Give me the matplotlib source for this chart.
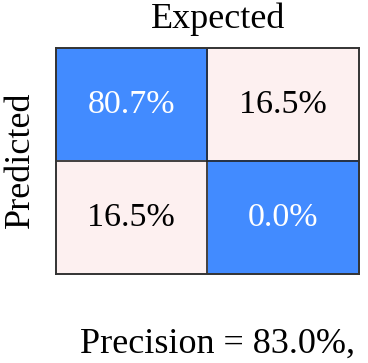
import matplotlib
matplotlib.use('Agg')
import matplotlib.pyplot as plt
import numpy as np
from matplotlib.colors import ListedColormap

# confusion matrix values (percent), rows = predicted, cols = expected
values = [[80.7, 16.5],
          [16.5, 0.0]]
correct = [[1, 0],
           [0, 1]]
precision = 83.0

BLUE = '#428bff'
PINK = '#fdf0f0'

plt.rcParams['font.family'] = ['Liberation Serif', 'DejaVu Serif']

W, H = 368, 363
fig = plt.figure(figsize=(W / 100, H / 100), dpi=100)
ax = fig.add_axes([55.5 / W, 1 - 274 / H, (359 - 55.5) / W, (274 - 47.7) / H])

ax.imshow(np.array(correct), cmap=ListedColormap([PINK, BLUE]), vmin=0, vmax=1,
          aspect='auto')
for i in range(2):
    for j in range(2):
        ax.text(j, i, f'{values[i][j]:.1f}%', ha='center', va='center',
                fontsize=24.5, color='white' if correct[i][j] else 'black')

ax.axhline(0.5, color='#222222', lw=1.2)
ax.axvline(0.5, color='#222222', lw=1.2)
for s in ax.spines.values():
    s.set_color('#333333')
    s.set_linewidth(1.4)
ax.set_xticks([])
ax.set_yticks([])

fig.text(218 / W, 1 - 27.5 / H, 'Expected', ha='center', va='baseline', fontsize=26)
fig.text(20 / W, 1 - 160 / H, 'Predicted', ha='center', va='center',
         rotation=90, fontsize=26)
fig.text(218 / W, 1 - 353 / H, f'Precision = {precision:.1f}%,', ha='center',
         va='baseline', fontsize=26)

fig.savefig('out.png', dpi=100)
